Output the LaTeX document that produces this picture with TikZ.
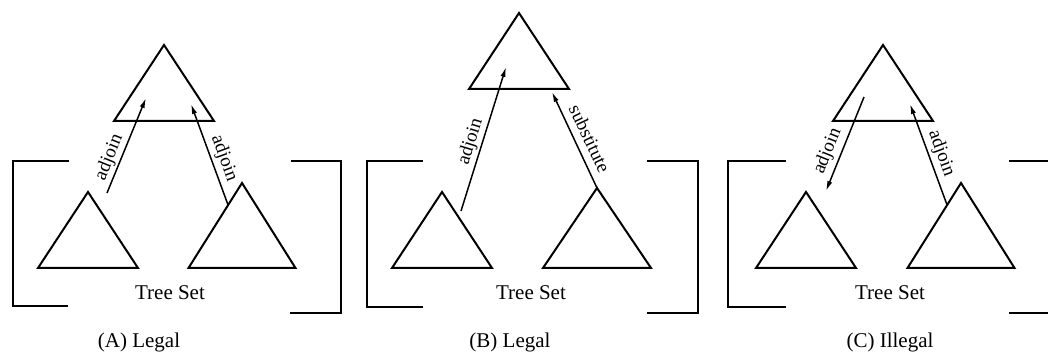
\documentclass[tikz,border=0pt]{standalone}
\usepackage{fontspec}
\setmainfont{Liberation Serif}
\usetikzlibrary{shapes.geometric, arrows.meta, positioning, calc}
\tikzset{
  tree/.style={
    isosceles triangle, isosceles triangle stretches, shape border rotate=90,
    draw, line width=1pt, inner sep=0pt, outer sep=0pt,
    minimum width=50pt, minimum height=38pt, anchor=apex
  },
  talltree/.style={tree, minimum width=53.5pt, minimum height=42.5pt},
  op/.style={-{Latex[length=5pt,width=2.6pt]}, line width=0.75pt},
  oplabel/.style={sloped, font=\fontsize{9.5}{11}\selectfont, inner sep=0.5pt},
  bracket/.style={line width=1pt},
  setlabel/.style={font=\fontsize{10.5}{12}\selectfont},
  caption/.style={font=\fontsize{10.5}{12}\selectfont}
}
\begin{document}
\begin{tikzpicture}[x=0.5pt, y=-0.5pt]
  \useasboundingbox (0,0) rectangle (1048,356);

  % (A) legal
  \node[tree]     (Atop)   at (164,45)  {};
  \node[tree]     (Aleft)  at (88,192)  {};
  \node[talltree] (Aright) at (242,183) {};
  \draw[bracket] (69,161) -| (13,306) -- (68,306);
  \draw[bracket] (291,161) -| (341,313) -- (290,313);
  \coordinate (Afoot) at (107,193);
  \coordinate (Ahead1) at (146,98);
  \coordinate (Ahead2) at (191,104);
  \coordinate (Aroot) at ($(Aright.apex)!0.26!(Aright.left corner)$);
  \draw[op] (Afoot) -- (Ahead1) node[oplabel, pos=0.33, above=0.5pt] {adjoin};
  \draw[op] (Aroot) -- (Ahead2) node[oplabel, pos=0.42, above=1pt] {adjoin};
  \node[setlabel] (Aset) at (170,293) {Tree Set};
  \node[caption]  (Acap) at (139,342) {(A) Legal};

  % (B) legal
  \node[tree] (Btop)   at (519,13)  {};
  \node[tree] (Bleft)  at (442,192) {};
  \node[tree, minimum width=54pt, minimum height=40pt] (Bright) at (597,188) {};
  \draw[bracket] (423,161) -| (367,307) -- (423,307);
  \draw[bracket] (647,161) -| (698,313) -- (647,313);
  \coordinate (Bfoot) at (461,211);
  \coordinate (Bhead1) at (506,67);
  \coordinate (Bhead2) at (552,92);
  \draw[op] (Bfoot) -- (Bhead1) node[oplabel, pos=0.46, above=0.5pt] {adjoin};
  \draw[op] (Bright.apex) -- (Bhead2) node[oplabel, pos=0.45, above=3pt] {substitute};
  \node[setlabel] (Bset) at (531,293) {Tree Set};
  \node[caption]  (Bcap) at (510,342) {(B) Legal};

  % (C) illegal
  \node[tree]     (Ctop)   at (883,45)  {};
  \node[tree]     (Cleft)  at (806,192) {};
  \node[talltree] (Cright) at (961,183) {};
  \draw[bracket] (786,161) -| (728,307) -- (786,307);
  \draw[bracket] (1009,161) -| (1058,313) -- (1009,313);
  \coordinate (Ctail) at (864,97);
  \coordinate (Chead1) at (826,191);
  \coordinate (Chead2) at (910,104);
  \coordinate (Croot) at ($(Cright.apex)!0.26!(Cright.left corner)$);
  \draw[op] (Ctail) -- (Chead1) node[oplabel, pos=0.63, above=1.5pt] {adjoin};
  \draw[op] (Croot) -- (Chead2) node[oplabel, pos=0.47, above=1pt] {adjoin};
  \node[setlabel] (Cset) at (890,293) {Tree Set};
  \node[caption]  (Ccap) at (890,342) {(C) Illegal};
\end{tikzpicture}
\end{document}
